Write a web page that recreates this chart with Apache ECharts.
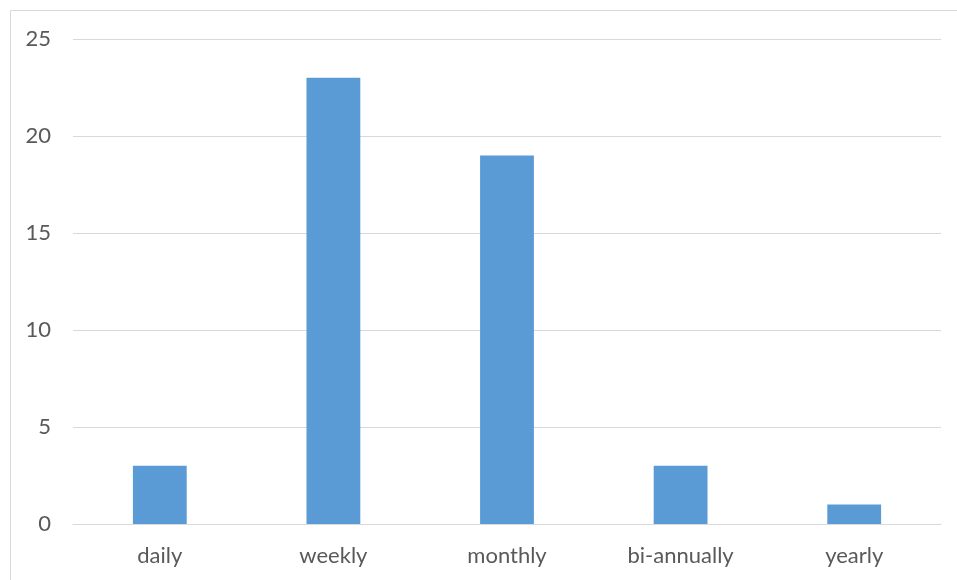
<!DOCTYPE html>
<html>
<head>
<meta charset="utf-8">
<script src="https://cdn.jsdelivr.net/npm/echarts@6/dist/echarts.min.js"></script>
<style>
html,body{margin:0;padding:0;background:#fff;}
#c{width:957px;height:580px;}
</style>
</head>
<body>
<div id="c"></div>
<script>
const categories = ['daily', 'weekly', 'monthly', 'bi-annually', 'yearly'];
const values = [3, 23, 19, 3, 1];
const yTicks = { min: 0, max: 25, interval: 5 };

const chart = echarts.init(document.getElementById('c'), null, { renderer: 'canvas' });
const font = 'Lato, "Open Sans", sans-serif';
chart.setOption({
  animation: false,
  backgroundColor: '#ffffff',
  graphic: [{
    type: 'rect',
    shape: { x: 10.5, y: 10.5, width: 980, height: 600 },
    style: { fill: 'none', stroke: '#d9d9d9', lineWidth: 1 },
    silent: true
  }],
  grid: { left: 73, right: 16, top: 39, bottom: 56, containLabel: false },
  xAxis: {
    type: 'category',
    data: categories,
    axisLine: { show: true, lineStyle: { color: '#d9d9d9', width: 1 } },
    axisTick: { show: false },
    axisLabel: { color: '#595959', fontSize: 22, fontFamily: font, margin: 21 }
  },
  yAxis: {
    type: 'value',
    min: yTicks.min, max: yTicks.max, interval: yTicks.interval,
    axisLine: { show: false },
    axisTick: { show: false },
    splitLine: { lineStyle: { color: '#d9d9d9', width: 1 } },
    axisLabel: { color: '#595959', fontSize: 22, fontFamily: font, margin: 22 }
  },
  series: [{
    type: 'bar',
    data: values,
    barWidth: '31%',
    itemStyle: { color: '#5b9bd5' }
  }]
});
</script>
</body>
</html>
